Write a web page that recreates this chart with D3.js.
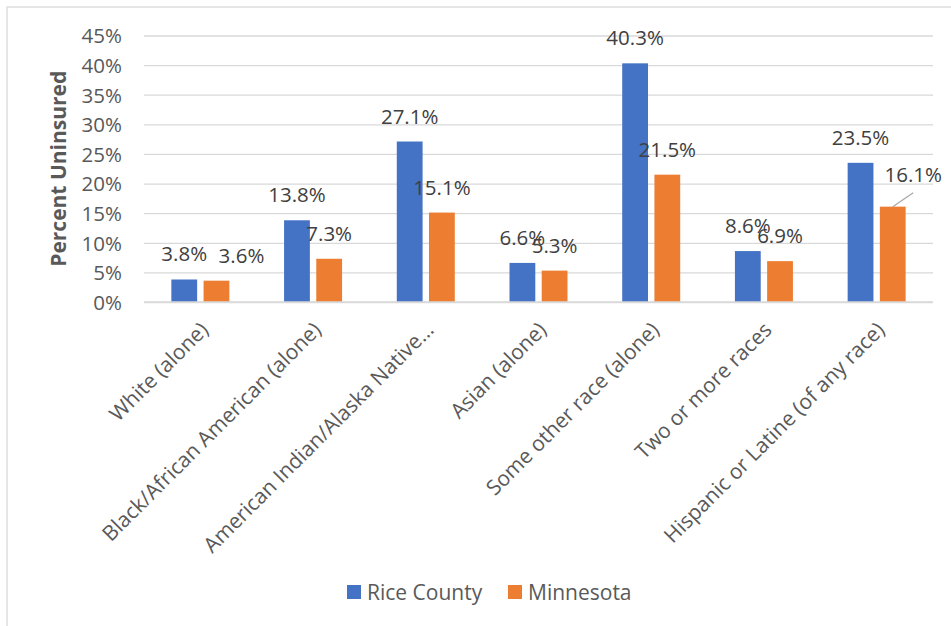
<!DOCTYPE html>
<html>
<head>
<meta charset="utf-8">
<script src="https://cdn.jsdelivr.net/npm/d3@7"></script>
<style>
  html, body { margin: 0; padding: 0; background: #fff; }
  svg { display: block; font-family: "Open Sans", "Noto Sans", sans-serif; }
</style>
</head>
<body>
<svg id="chart" width="951" height="626"></svg>
<script>
// ---- data ----
const categories = [
  "White (alone)",
  "Black/African American (alone)",
  "American Indian/Alaska Native…",
  "Asian (alone)",
  "Some other race (alone)",
  "Two or more races",
  "Hispanic or Latine (of any race)"
];
const seriesNames = ["Rice County", "Minnesota"];
const riceCounty = [3.8, 13.8, 27.1, 6.6, 40.3, 8.6, 23.5];
const minnesota  = [3.6, 7.3, 15.1, 5.3, 21.5, 6.9, 16.1];
const yTicks = [0, 5, 10, 15, 20, 25, 30, 35, 40, 45];
const yTitle = "Percent Uninsured";

// ---- layout / style ----
const colors = ["#4472C4", "#ED7D31"];
const labelNudges = [
  { series: 1, cat: 0, dx: 25, dy: 0, leader: false },
  { series: 1, cat: 6, dx: 20.5, dy: -7, leader: true }
];

const svg = d3.select("#chart");
const W = 951, H = 626;
const plot = { left: 144, right: 933, top: 35.5, bottom: 302 };

// chart border
svg.append("rect").attr("x", 7).attr("y", 7).attr("width", 1000).attr("height", 1000)
  .attr("fill", "none").attr("stroke", "#d9d9d9").attr("stroke-width", 1.3);

const y = d3.scaleLinear().domain([0, 45]).range([plot.bottom, plot.top]);
const x0 = d3.scaleBand().domain(categories).range([plot.left, plot.right]).padding(0);
const x1 = d3.scaleBand().domain(seriesNames).range([-29, 29]).paddingInner(0.199).paddingOuter(0);

// gridlines
const yAxis = d3.axisLeft(y).tickValues(yTicks).tickFormat(d => d + "%")
  .tickSize(-(plot.right - plot.left)).tickPadding(22);
const gy = svg.append("g").attr("transform", `translate(${plot.left},0)`).call(yAxis);
gy.select(".domain").remove();
gy.selectAll(".tick line").attr("stroke", "#d9d9d9").attr("stroke-width", 1.3);
gy.selectAll(".tick text").attr("fill", "#595959").style("font-size", "20.5px")
  .style("font-family", "'Open Sans', sans-serif").attr("dy", "0.36em");

// y axis title
svg.append("text")
  .attr("transform", `translate(66,${(plot.top + plot.bottom) / 2}) rotate(-90)`)
  .attr("text-anchor", "middle")
  .attr("fill", "#595959").style("font-size", "21px").style("font-weight", "bold")
  .text(yTitle);

// bars
const seriesValues = [riceCounty, minnesota];
const groups = svg.append("g");
seriesValues.forEach((vals, s) => {
  groups.selectAll(null).data(vals).enter().append("rect")
    .attr("x", (d, i) => x0(categories[i]) + x0.bandwidth() / 2 + x1(seriesNames[s]))
    .attr("y", d => y(d))
    .attr("width", x1.bandwidth())
    .attr("height", d => y(0) - y(d))
    .attr("fill", colors[s]);
});

// data labels
seriesValues.forEach((vals, s) => {
  vals.forEach((v, i) => {
    const cx = x0(categories[i]) + x0.bandwidth() / 2 + x1(seriesNames[s]) + x1.bandwidth() / 2;
    const by = y(v) - 18;
    const n = labelNudges.find(o => o.series === s && o.cat === i);
    const dx = n ? n.dx : 0, dy = n ? n.dy : 0;
    if (n && n.leader) {
      svg.append("line")
        .attr("x1", cx).attr("y1", y(v))
        .attr("x2", cx + dx).attr("y2", by + dy - 15 + 26)
        .attr("stroke", "#a6a6a6").attr("stroke-width", 1.2);
    }
    svg.append("text")
      .attr("x", cx + dx).attr("y", by + dy)
      .attr("text-anchor", "middle")
      .attr("fill", "#404040").style("font-size", "20.5px")
      .text(v.toFixed(1) + "%");
  });
});

// x axis baseline
svg.append("line").attr("x1", plot.left).attr("x2", plot.right)
  .attr("y1", y(0)).attr("y2", y(0)).attr("stroke", "#d9d9d9").attr("stroke-width", 1.3);

// x labels
categories.forEach(c => {
  const cx = x0(c) + x0.bandwidth() / 2;
  svg.append("text")
    .attr("transform", `translate(${cx + 4},${plot.bottom + 24}) rotate(-45)`)
    .attr("text-anchor", "end")
    .attr("dy", "0.35em")
    .attr("fill", "#595959").style("font-size", "21px")
    .text(c);
});

// legend
const legendItems = [
  { name: seriesNames[0], color: colors[0], x: 347 },
  { name: seriesNames[1], color: colors[1], x: 508 }
];
legendItems.forEach(it => {
  svg.append("rect").attr("x", it.x).attr("y", 585).attr("width", 14).attr("height", 14).attr("fill", it.color);
  svg.append("text").attr("x", it.x + 20).attr("y", 599.5)
    .attr("fill", "#595959").style("font-size", "21px").text(it.name);
});
</script>
</body>
</html>
